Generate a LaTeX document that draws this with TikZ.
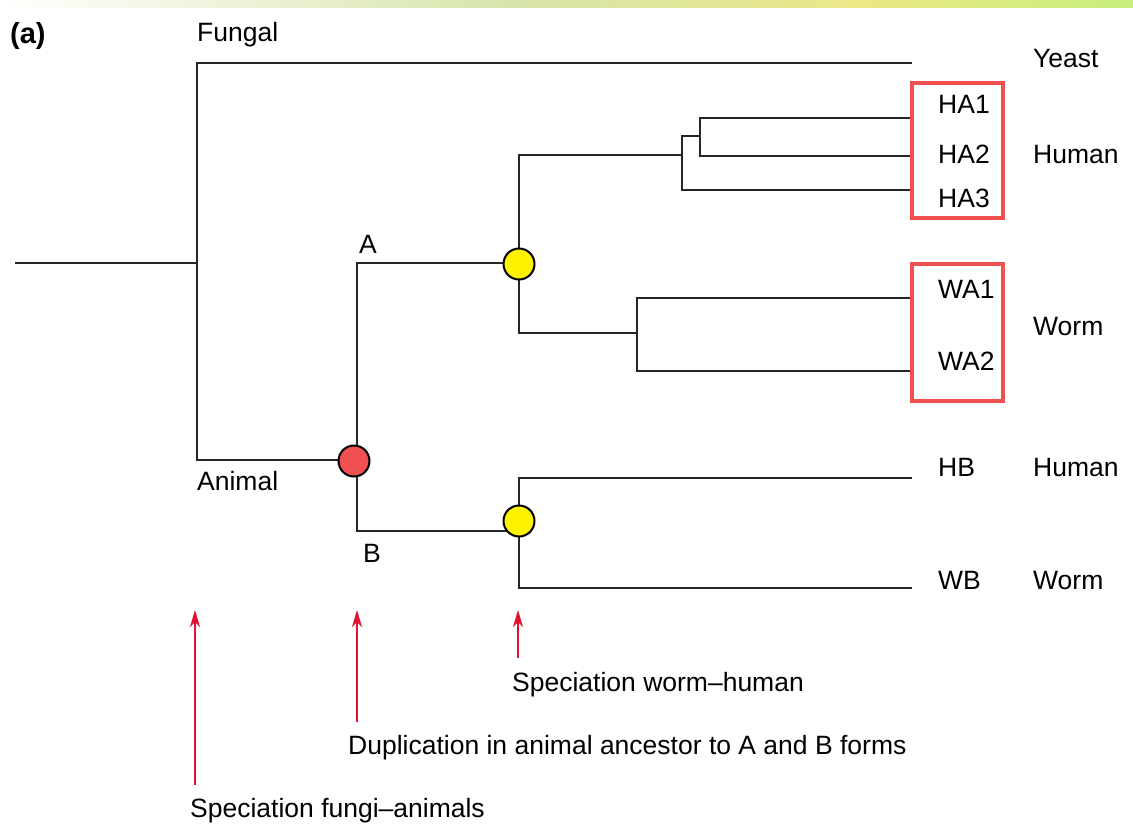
\documentclass[tikz,border=0pt]{standalone}
\usepackage{fontspec}
\setmainfont{Liberation Sans}
\usetikzlibrary{arrows.meta}
\definecolor{boxred}{RGB}{240,80,80}
\definecolor{arrred}{RGB}{226,18,50}
\definecolor{bandA}{RGB}{215,228,170}
\definecolor{bandB}{RGB}{235,232,135}
\definecolor{bandC}{RGB}{198,238,125}
\begin{document}
\begin{tikzpicture}[x=1pt,y=-1pt,
  branch/.style={draw=black!85, line width=2pt, line join=miter},
  lbl/.style={anchor=base west, inner sep=0pt, font=\fontsize{26.5}{30}\selectfont},
  clbl/.style={anchor=base, inner sep=0pt, font=\fontsize{26.5}{30}\selectfont},
  dupnode/.style={circle, draw=black, line width=2pt, fill=boxred, minimum size=31pt, inner sep=0pt},
  specnode/.style={circle, draw=black, line width=2pt, fill=yellow, minimum size=31pt, inner sep=0pt},
  redbox/.style={draw=boxred, line width=3.5pt, inner sep=0pt},
  redarrow/.style={draw=arrred, line width=2pt, -{Stealth[length=17pt,width=10pt,inset=5pt]}}]
\useasboundingbox (0,0) rectangle (1133,825);
\fill[white] (0,0) rectangle (1133,825);
% top band
\shade[left color=white, right color=bandA] (0,0) rectangle (520,7);
\shade[left color=bandA, right color=bandB] (519.5,0) rectangle (860,7);
\shade[left color=bandB, right color=bandC] (859.5,0) rectangle (1133,7);

% coordinates
\coordinate (root) at (15,263);
\coordinate (n0) at (197,263);
\coordinate (tY) at (912,63);
\coordinate (t1) at (912,118);
\coordinate (t2) at (912,156);
\coordinate (t3) at (912,190);
\coordinate (t4) at (912,298);
\coordinate (t5) at (912,371);
\coordinate (tHB) at (912,478);
\coordinate (tWB) at (912,588);
\coordinate (h12) at (700,136);
\coordinate (h123) at (682,136);
\coordinate (hA) at (682,155);
\coordinate (wa) at (637,333);
\coordinate (bB) at (519,531);
\coordinate (bv) at (519,521);

% branches
\draw[branch] (root) -- (n0);
\draw[branch] (tY) -| (n0) |- (357,460);
\draw[branch] (519,263) -| (357,461) |- (bB);
\draw[branch] (t1) -| (h12) |- (t2);
\draw[branch] (h12) -- (h123) |- (t3);
\draw[branch] (t4) -| (wa) |- (t5);
\draw[branch] (hA) -| (519,263) |- (wa);
\draw[branch] (tHB) -| (bv) |- (tWB);

% event nodes
\node[dupnode] (dup) at (354,461) {};
\node[specnode] (sA) at (519,264) {};
\node[specnode] (sB) at (519,521) {};

% boxes
\node[redbox, minimum width=91pt, minimum height=135pt] (boxH) at (957.5,150.5) {};
\node[redbox, minimum width=91pt, minimum height=137pt] (boxW) at (957.5,332.5) {};

% labels
\node[lbl, font=\fontsize{29}{30}\selectfont\bfseries] (panel) at (10,43) {(a)};
\node[lbl] (fungal) at (197,41.5) {Fungal};
\node[lbl] (animal) at (197,490) {Animal};
\node[clbl] (labA) at (368,253.5) {A};
\node[clbl] (labB) at (372,562.5) {B};
\node[lbl] (yeast) at (1033,67.5) {Yeast};
\node[lbl] (ha1) at (938,113.5) {HA1};
\node[lbl] (ha2) at (938,163.5) {HA2};
\node[lbl] (ha3) at (938,207.5) {HA3};
\node[lbl] (human1) at (1033,163.5) {Human};
\node[lbl] (wa1) at (938,298.5) {WA1};
\node[lbl] (wa2) at (938,370.5) {WA2};
\node[lbl] (worm1) at (1033,335.5) {Worm};
\node[lbl] (hb) at (938,476.5) {HB};
\node[lbl] (human2) at (1033,476.5) {Human};
\node[lbl] (wb) at (938,589.5) {WB};
\node[lbl] (worm2) at (1033,589.5) {Worm};

% annotations
\node[lbl] (ann3) at (512,691.5) {Speciation worm–human};
\node[lbl] (ann2) at (348,754.5) {Duplication in animal ancestor to A and B forms};
\node[lbl] (ann1) at (190,817.5) {Speciation fungi–animals};
\coordinate (a1s) at (195,785);
\coordinate (a1e) at (195,610);
\coordinate (a2s) at (357,722);
\coordinate (a2e) at (357,610);
\coordinate (a3s) at (518,658);
\coordinate (a3e) at (518,610);
\draw[redarrow] (a1s) -- (a1e);
\draw[redarrow] (a2s) -- (a2e);
\draw[redarrow] (a3s) -- (a3e);
\end{tikzpicture}
\end{document}
